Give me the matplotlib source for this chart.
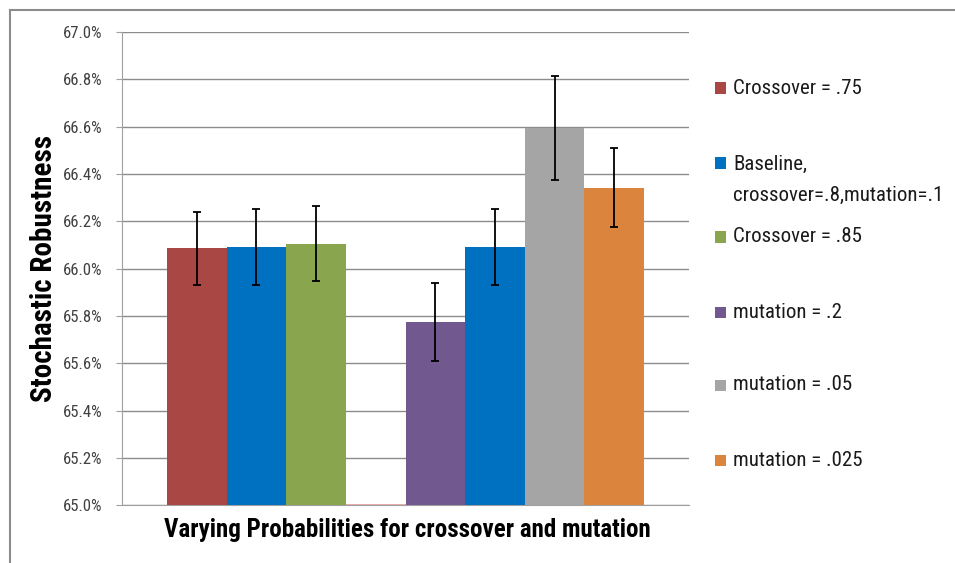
import matplotlib
matplotlib.use("Agg")
import matplotlib.pyplot as plt
from matplotlib.patches import Rectangle
from matplotlib.lines import Line2D

plt.rcParams['font.family'] = ['Roboto Condensed', 'Liberation Sans Narrow', 'Lato', 'DejaVu Sans']

# Series shown as side-by-side bars (one category, spacer bar in the middle)
labels = ["Crossover = .75", "Baseline,\ncrossover=.8,mutation=.1", "Crossover = .85",
          "", "mutation = .2", "", "mutation = .05", "mutation = .025"]
values = [66.087, 66.091, 66.105, 65.0, 65.774, 66.091, 66.595, 66.342]
errors = [0.154, 0.160, 0.158, 0.0, 0.166, 0.160, 0.221, 0.167]
colors = ["#A84744", "#0070C0", "#89A54E", "#E8A0A0", "#71588F", "#0070C0", "#A5A5A5", "#DB843D"]
legend_idx = [0, 1, 2, 4, 6, 7]
yticks = [65.0, 65.2, 65.4, 65.6, 65.8, 66.0, 66.2, 66.4, 66.6, 66.8, 67.0]
ymin, ymax = 65.0, 67.0

W, H = 955, 563
fig = plt.figure(figsize=(W / 100, H / 100), dpi=100)
ax = fig.add_axes([122 / W, (H - 505.3) / H, (689 - 122) / W, (505.3 - 32) / H])

for i, (v, e, c) in enumerate(zip(values, errors, colors)):
    if e == 0:
        # empty spacer series: only its baseline edge shows
        ax.bar(i, v - ymin, bottom=ymin, width=1.0, color="none", edgecolor=c, linewidth=1.2, zorder=3)
    else:
        ax.bar(i, v - ymin, bottom=ymin, width=1.0, color=c, linewidth=0, zorder=3)
        ax.errorbar(i, v, yerr=e, fmt="none", ecolor="black", elinewidth=1.3,
                    capsize=3.2, capthick=1.3, zorder=4)

ax.set_xlim(-1.254, len(values) - 1 + 1.254)
ax.set_ylim(ymin, ymax)
ax.set_yticks(yticks)
ax.set_yticklabels([f"{t:.1f}%" for t in yticks], fontsize=12, color="#404040")
ax.set_xticks([])
ax.grid(axis="y", color="#8C8C8C", linewidth=1.0, zorder=0)
ax.set_axisbelow(True)
for s in ["top", "right"]:
    ax.spines[s].set_visible(False)
ax.spines["left"].set_color("#A0A0A0")
ax.spines["bottom"].set_color("#A0A0A0")
ax.tick_params(axis="y", length=4, color="#A0A0A0", pad=10)

fig.text(44 / W, 1 - 268 / H, "Stochastic Robustness", rotation=90, ha="center", va="center",
         fontsize=21, fontweight="bold")
fig.text(407 / W, 1 - 530 / H, "Varying Probabilities for crossover and mutation",
         ha="center", va="center", fontsize=18, fontweight="bold")

# Legend drawn as colored squares with labels
legend_y = [88, 180, 237, 312, 385, 460]
marker_y = [88, 163, 237, 312, 385, 460]
for idx, ly, my in zip(legend_idx, legend_y, marker_y):
    fig.patches.append(Rectangle((714.5 / W, 1 - (my + 6) / H), 11.5 / W, 11.5 / H,
                                 transform=fig.transFigure, facecolor=colors[idx], edgecolor="none"))
    fig.text(733 / W, 1 - ly / H, labels[idx], ha="left", va="center",
             fontsize=15, linespacing=1.85, color="#1A1A1A")

# Chart frame (top and left edges)
fig.lines.append(Line2D([10 / W, 1], [1 - 10 / H, 1 - 10 / H], transform=fig.transFigure,
                        color="#8C8C8C", linewidth=1.5))
fig.lines.append(Line2D([10 / W, 10 / W], [0, 1 - 10 / H], transform=fig.transFigure,
                        color="#8C8C8C", linewidth=1.5))

fig.savefig("out.png", dpi=100, facecolor="white")
